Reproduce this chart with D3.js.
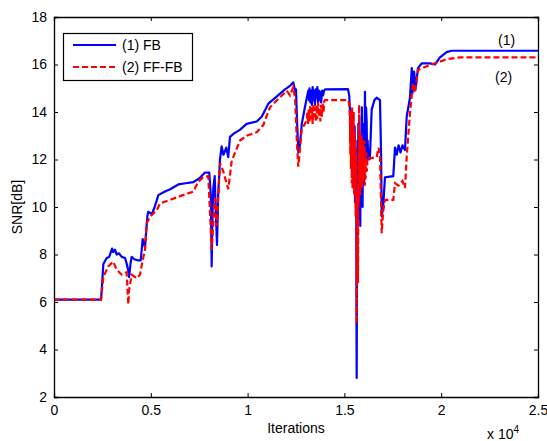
<!DOCTYPE html>
<html>
<head>
<meta charset="utf-8">
<script src="https://cdn.jsdelivr.net/npm/d3@7"></script>
<style>
  body { margin: 0; background: #fff; }
  text { font-family: "Liberation Sans", Arial, sans-serif; }
</style>
</head>
<body>
<div id="chart"></div>
<script>
// (1) FB - iterations and SNR
var fbIter = [0, 2430, 2550, 2720, 2850, 3000, 3060, 3150, 3240, 3350, 3500, 3670, 3760, 3840, 3880, 3950, 4010, 4150, 4350, 4480,
  4580, 4700, 4820, 4870, 5050, 5200, 5390, 5730, 6000, 6420, 6800, 7200, 7500, 7800, 8020, 8100, 8145, 8180, 8230, 8300,
  8350, 8420, 8480, 8574, 8660, 8750, 8900, 9000, 9090, 9300, 9600, 9950, 10470, 10730, 11070, 11500, 11930, 12190, 12360, 12450,
  12500, 12560, 12620, 12700, 12800, 12960, 13135, 13170, 13200, 13240, 13280, 13320, 13360, 13400, 13440, 13480, 13520, 13560, 13600, 13640,
  13680, 13720, 13760, 13800, 13850, 13900, 13950, 14000, 15185, 15250,
  15290, 15310, 15330, 15350, 15370, 15390, 15410, 15430, 15450, 15470, 15490, 15510, 15530, 15550, 15570, 15590, 15610, 15625, 15634, 15645,
  15660, 15680, 15700, 15720, 15740, 15760, 15780, 15800, 15820, 15840, 15860, 15880, 15900, 15920, 15940, 15960, 15980, 16000, 16020, 16040,
  16063, 16080, 16100, 16120, 16150, 16170, 16200, 16230, 16250, 16290, 16320,
  16409, 16550, 16667, 16838, 16900, 16926, 17000, 17096, 17525, 17613, 17700, 17800, 17900, 18000,
  18129, 18217, 18387, 18480, 18520, 18600, 18680, 18801, 18992, 19420, 19678, 19937, 20283, 20541, 25000];
var fbSnr = [6.1, 6.1, 7.6, 7.85, 7.9, 8.25, 8.1, 8.2, 8.0, 8.05, 7.9, 7.85, 7.6, 7.3, 7.05, 7.6, 7.9, 7.8, 7.75, 7.75,
  8.65, 8.3, 9.6, 9.8, 9.7, 10.0, 10.5, 10.65, 10.75, 10.95, 11.0, 11.05, 11.2, 11.45, 11.45, 10.5, 7.5, 9.5, 10.8, 11.3,
  10.0, 8.4, 10.5, 12.0, 12.55, 12.2, 12.5, 12.1, 12.95, 13.1, 13.25, 13.5, 13.6, 13.8, 14.35, 14.65, 14.95, 15.1, 15.25, 14.9,
  14.95, 13.5, 12.3, 12.6, 13.5, 14.2, 14.9, 14.5, 15.0, 14.4, 14.9, 14.3, 15.05, 14.5, 14.9, 14.3, 14.95, 14.6, 15.05, 14.4,
  14.9, 14.5, 14.85, 14.4, 14.9, 14.7, 14.9, 14.95, 14.96, 14.7,
  14.0, 12.8, 13.9, 12.0, 13.6, 11.5, 13.8, 12.2, 13.2, 10.8, 12.9, 11.2, 13.4, 10.2, 12.5, 11.0, 12.2, 5.0, 2.8, 6.0,
  9.0, 12.8, 10.6, 13.5, 10.2, 13.8, 9.5, 12.5, 9.2, 11.8, 13.0, 10.8, 14.2, 11.5, 10.0, 13.0, 11.2, 13.5, 11.0, 12.5,
  14.85, 13.0, 12.0, 14.2, 13.6, 12.0, 12.8, 12.1, 12.4, 12.0, 12.1,
  14.1, 14.5, 14.6, 14.5, 12.0, 9.6, 10.0, 11.25, 11.3, 12.5, 12.2, 12.6, 12.3, 12.6,
  12.4, 13.8, 14.6, 15.85, 14.8, 15.7, 15.0, 15.85, 16.05, 16.05, 16.0, 16.3, 16.52, 16.58, 16.58];

// (2) FF-FB
var ffIter = [0, 2430, 2550, 2800, 3060, 3240, 3500, 3750, 3838, 3880, 4013, 4270, 4440, 4580, 4700, 4790, 4960, 5300, 5475, 5990,
  6660, 7200, 7440, 7700, 7970, 8145, 8316, 8403, 8574, 8744, 9003, 9180, 9260, 9607, 9953, 10470, 10810, 11156, 11585, 12019,
  12189, 12360, 12450, 12560, 12618, 12700, 12794, 13052, 13090, 13120, 13160, 13200, 13240, 13280, 13320, 13360, 13400, 13440, 13480, 13520,
  13560, 13600, 13640, 13680, 13720, 13760, 13800, 13840, 13880, 13920, 13960, 14000,
  15185, 15260, 15290, 15305, 15320, 15340, 15360, 15380, 15400, 15420, 15440, 15460, 15480, 15500, 15520, 15540, 15560, 15580, 15600, 15620,
  15634, 15650, 15665, 15680, 15700, 15715, 15730, 15745, 15760, 15780, 15800, 15820, 15840, 15860, 15880, 15900, 15920, 15940, 15960, 15980,
  16000, 16020, 16040, 16063, 16080, 16100, 16130, 16160, 16200, 16320,
  16667, 16760, 16838, 16926, 17000, 17096, 17525, 17613, 17800, 18000, 18129, 18217, 18387,
  18542, 18650, 18801, 19420, 19937, 20283, 20970, 25000];
var ffSnr = [6.1, 6.1, 7.05, 7.5, 7.7, 7.35, 7.15, 7.25, 5.9, 6.5, 7.15, 7.0, 7.15, 7.75, 8.2, 9.3, 9.6, 9.85, 10.15, 10.3,
  10.5, 10.65, 11.05, 11.25, 11.3, 8.2, 10.4, 9.2, 11.85, 11.5, 10.75, 11.95, 12.1, 12.8, 13.0, 13.15, 13.45, 14.2, 14.55, 14.9,
  14.7, 15.05, 14.6, 12.5, 11.7, 12.4, 13.25, 13.65, 14.0, 13.5, 14.1, 13.6, 14.3, 13.7, 14.2, 13.5, 14.35, 13.8, 14.2, 13.6,
  14.3, 13.7, 14.4, 13.8, 14.2, 13.6, 14.3, 13.8, 14.35, 14.0, 14.45, 14.5,
  14.5, 14.3, 13.5, 12.2, 14.0, 11.6, 13.8, 11.0, 14.2, 10.8, 13.5, 11.5, 14.0, 10.5, 13.2, 10.9, 12.8, 9.6, 12.5, 8.0,
  5.1, 8.5, 7.0, 10.5, 6.8, 9.5, 12.0, 10.2, 14.3, 11.0, 13.2, 10.5, 12.6, 10.9, 13.0, 10.8, 12.5, 11.2, 12.8, 11.0,
  12.4, 11.5, 12.8, 10.9, 11.8, 11.2, 12.3, 11.5, 12.1, 12.05,
  12.1, 12.5, 12.2, 8.9, 9.8, 10.3, 10.3, 11.0, 10.9, 11.1, 10.8, 12.1, 13.96,
  15.2, 14.8, 15.77, 15.98, 16.12, 16.23, 16.3, 16.3];

var xTicks = [0, 5000, 10000, 15000, 20000, 25000];
var yTicks = [2, 4, 6, 8, 10, 12, 14, 16, 18];
var seriesNames = ["(1) FB", "(2) FF-FB"];

var W = 547, H = 441;
var margin = { top: 17, right: 9, bottom: 44, left: 54 };
var w = W - margin.left - margin.right;
var h = H - margin.top - margin.bottom;

var svg = d3.select('#chart').append('svg')
  .attr('width', W).attr('height', H);

var g = svg.append('g')
  .attr('transform', 'translate(' + margin.left + ',' + margin.top + ')');

var x = d3.scaleLinear().domain([0, 25000]).range([0, w]);
var y = d3.scaleLinear().domain([2, 18]).range([h, 0]);

g.append('clipPath').attr('id', 'clip')
  .append('rect').attr('width', w).attr('height', h);

var line = d3.line()
  .x(function (d) { return x(d[0]); })
  .y(function (d) { return y(d[1]); });

var fbData = fbIter.map(function (v, i) { return [v, fbSnr[i]]; });
var ffData = ffIter.map(function (v, i) { return [v, ffSnr[i]]; });

var plot = g.append('g').attr('clip-path', 'url(#clip)');
plot.append('path').datum(fbData)
  .attr('d', line).attr('fill', 'none')
  .attr('stroke', '#0000ff').attr('stroke-width', 2.2)
  .attr('stroke-linejoin', 'round');
plot.append('path').datum(ffData)
  .attr('d', line).attr('fill', 'none')
  .attr('stroke', '#ff0000').attr('stroke-width', 2.2)
  .attr('stroke-dasharray', '6,3');

// axes, MATLAB style: ticks inward on all four sides
var fmtX = function (d) { return d / 10000; };
var axB = g.append('g').attr('transform', 'translate(0,' + h + ')')
  .call(d3.axisBottom(x).tickValues(xTicks).tickSize(-4).tickPadding(8).tickFormat(fmtX));
var axT = g.append('g')
  .call(d3.axisTop(x).tickValues(xTicks).tickSize(-4).tickFormat(''));
var axL = g.append('g')
  .call(d3.axisLeft(y).tickValues(yTicks).tickSize(-4).tickPadding(7));
var axR = g.append('g').attr('transform', 'translate(' + w + ',0)')
  .call(d3.axisRight(y).tickValues(yTicks).tickSize(-4).tickFormat(''));

[axB, axT, axL, axR].forEach(function (a) {
  a.selectAll('.domain').attr('stroke', '#000').attr('stroke-width', 1.3);
  a.selectAll('.tick line').attr('stroke', '#000');
  a.selectAll('text').attr('font-size', 14).attr('fill', '#000')
    .style('font-family', '"Liberation Sans", Arial, sans-serif');
});

// labels
svg.append('text').attr('x', margin.left + w / 2).attr('y', 433)
  .attr('text-anchor', 'middle').attr('font-size', 14).text('Iterations');
svg.append('text').attr('transform', 'translate(22,' + (margin.top + h / 2) + ') rotate(-90)')
  .attr('text-anchor', 'middle').attr('font-size', 14).text('SNR[dB]');
var sc = svg.append('text').attr('x', 487).attr('y', 439).attr('font-size', 14);
sc.append('tspan').text('x 10');
sc.append('tspan').attr('dy', -6).attr('font-size', 10).text('4');

// curve tags
svg.append('text').attr('x', 498).attr('y', 45).attr('font-size', 14).text('(1)');
svg.append('text').attr('x', 495).attr('y', 82).attr('font-size', 14).text('(2)');

// legend
var leg = svg.append('g');
leg.append('rect').attr('x', 63.5).attr('y', 33.5).attr('width', 129).attr('height', 47)
  .attr('fill', '#fff').attr('stroke', '#000').attr('stroke-width', 1.2);
var legStyles = [{ c: '#0000ff', dash: null }, { c: '#ff0000', dash: '6,3' }];
seriesNames.forEach(function (name, i) {
  var ly = 45 + i * 22;
  leg.append('line').attr('x1', 73).attr('x2', 116).attr('y1', ly).attr('y2', ly)
    .attr('stroke', legStyles[i].c).attr('stroke-width', 2.2)
    .attr('stroke-dasharray', legStyles[i].dash);
  leg.append('text').attr('x', 122).attr('y', ly + 5).attr('font-size', 14).text(name);
});
</script>
</body>
</html>
